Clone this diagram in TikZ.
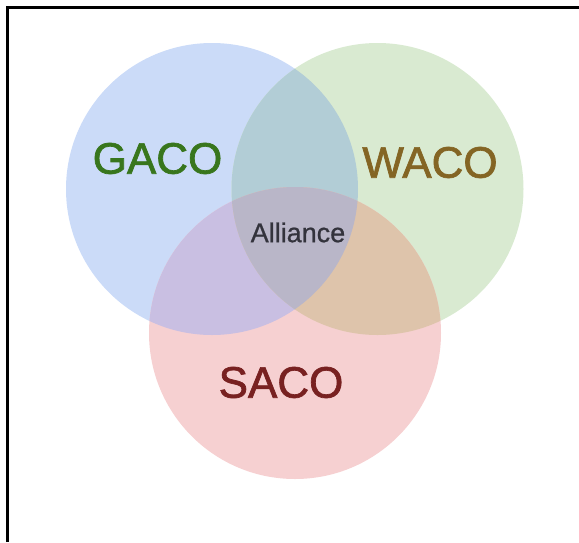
\documentclass[tikz,border=0pt]{standalone}
\usepackage{fontspec}
\setmainfont{Liberation Sans}
\newfontfamily\lblfont[FakeBold=1.6]{Liberation Sans}
\newfontfamily\smallfont[FakeBold=0.8]{Liberation Sans}
\definecolor{bonly}{RGB}{203,219,248}
\definecolor{gonly}{RGB}{217,234,209}
\definecolor{ronly}{RGB}{246,208,209}
\definecolor{bg}{RGB}{178,205,214}
\definecolor{br}{RGB}{201,191,226}
\definecolor{gr}{RGB}{222,196,171}
\definecolor{bgr}{RGB}{185,182,200}
\definecolor{tgreen}{RGB}{56,118,29}
\definecolor{tbrown}{RGB}{132,101,36}
\definecolor{tred}{RGB}{120,33,33}
\definecolor{tgray}{RGB}{51,51,60}
\begin{document}
\begin{tikzpicture}[x=1pt,y=-1pt,
  setc/.style={circle, minimum size=292pt, inner sep=0pt},
  biglbl/.style={font=\lblfont\fontsize{44}{48}\selectfont},
  frameline/.style={line width=3pt}]
\useasboundingbox (0,0) rectangle (579,542);
\node[setc, fill=bonly] (gaco) at (212,189) {};
\node[setc, fill=gonly] (waco) at (377.5,189) {};
\node[setc, fill=ronly] (saco) at (295,333) {};
\begin{scope}
  \clip (gaco.center) circle (146);
  \fill[bg] (waco.center) circle (146);
  \fill[br] (saco.center) circle (146);
\end{scope}
\begin{scope}
  \clip (waco.center) circle (146);
  \fill[gr] (saco.center) circle (146);
\end{scope}
\begin{scope}
  \clip (gaco.center) circle (146);
  \clip (waco.center) circle (146);
  \fill[bgr] (saco.center) circle (146);
\end{scope}
\node[biglbl, text=tgreen] (lg) at (157.5,158.5) {GACO};
\node[biglbl, text=tbrown] (lw) at (430,162.5) {WACO};
\node[biglbl, text=tred] (ls) at (281,382.5) {SACO};
\node[text=tgray, font=\smallfont\fontsize{27}{30}\selectfont] (la) at (298,232.5) {Alliance};
\coordinate (c1) at (7,542);
\coordinate (c2) at (7,7);
\coordinate (c3) at (579,7);
\draw[frameline] (c1) -- (c2) -- (c3);
\end{tikzpicture}
\end{document}
